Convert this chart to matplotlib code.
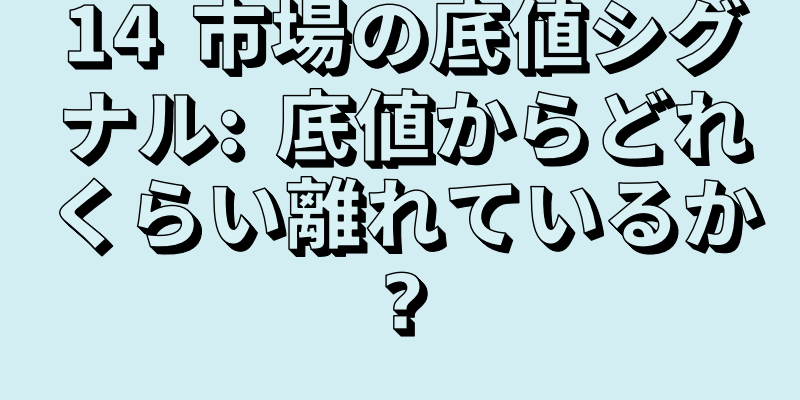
import matplotlib
matplotlib.use("Agg")
import matplotlib.pyplot as plt
import matplotlib.patheffects as pe
from matplotlib.font_manager import FontProperties

title_lines = ["14 市場の底値シグ", "ナル: 底値からどれ", "くらい離れているか", "?"]
line_centers = [39, 131, 219, 308]

BG = "#d3eef3"
FILL = "#d8f1f5"
FONT_PT = 55
TRACK_PX = 3

fig = plt.figure(figsize=(8, 4), dpi=100)
fig.patch.set_facecolor(BG)
ax = fig.add_axes([0, 0, 1, 1])
ax.set_xlim(0, 800)
ax.set_ylim(400, 0)
ax.axis("off")

effects = []
for i in range(1, 8):
    d = i * 0.72
    effects.append(pe.PathPatchEffect(offset=(d, -d), facecolor="black", edgecolor="black", linewidth=0.8))
effects.append(pe.PathPatchEffect(facecolor=FILL, edgecolor="black", linewidth=1.0))

prop = FontProperties(family=["Noto Sans CJK JP", "DejaVu Sans"], weight="black", size=FONT_PT)
prop_q = FontProperties(family="DejaVu Sans", weight="bold", size=FONT_PT)
renderer = fig.canvas.get_renderer()


def pick(ch):
    return prop_q if ch == "?" else prop


def advance(ch):
    if ch == " ":
        w, _, _ = renderer.get_text_width_height_descent("a a", prop, ismath=False)
        w2, _, _ = renderer.get_text_width_height_descent("aa", prop, ismath=False)
        return (w - w2) * 1.5
    w, _, _ = renderer.get_text_width_height_descent(ch, pick(ch), ismath=False)
    return w


for txt, yc in zip(title_lines, line_centers):
    widths = [advance(c) for c in txt]
    total = sum(widths) + TRACK_PX * (len(txt) - 1)
    x = 403 - total / 2
    for c, w in zip(txt, widths):
        if c != " ":
            ax.text(x + w / 2, yc, c, ha="center", va="center", fontproperties=pick(c),
                    color=FILL, path_effects=effects)
        x += w + TRACK_PX

fig.savefig("out.png", dpi=100, facecolor=BG)
